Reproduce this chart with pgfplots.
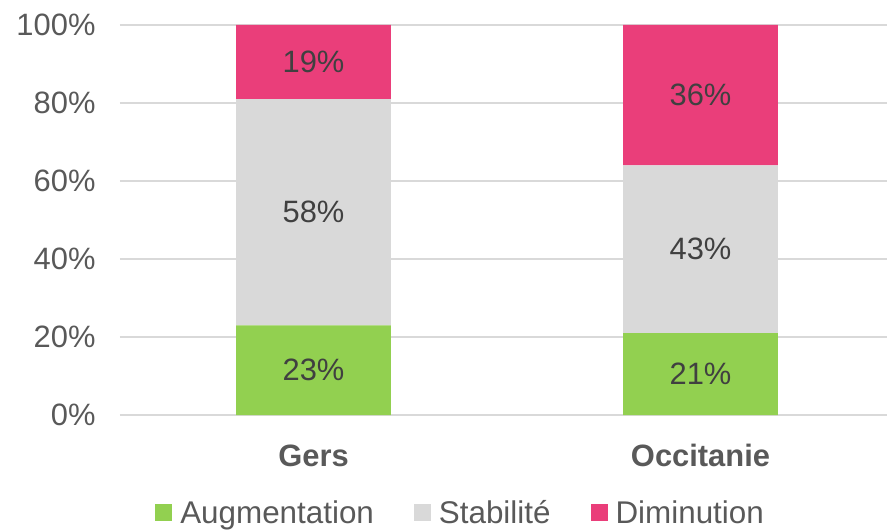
\documentclass[border=0pt]{standalone}
\usepackage{pgfplots}
\pgfplotsset{compat=1.18}
\usetikzlibrary{calc}
\usepackage{fontspec}
\setmainfont{Liberation Sans}
\definecolor{cAug}{HTML}{92D050}
\definecolor{cSta}{HTML}{D9D9D9}
\definecolor{cDim}{HTML}{EA3E7A}
\definecolor{cTick}{HTML}{595959}
\definecolor{cLab}{HTML}{404040}
\definecolor{cGrid}{HTML}{D9D9D9}

\begin{document}
\begin{tikzpicture}
\begin{axis}[
  name=ax,
  scale only axis, width=774bp, height=390bp,
  ybar stacked, bar width=0.4,
  xmin=-0.5, xmax=1.5, ymin=0, ymax=100,
  xtick={0,1}, xticklabels={Gers,Occitanie},
  ytick={0,20,...,100},
  yticklabel={\pgfmathprintnumber{\tick}\%},
  /pgf/number format/assume math mode=true,
  axis x line*=bottom, axis y line*=left,
  x axis line style={draw=cGrid, line width=1.3bp, -},
  y axis line style={draw=none},
  tick style={draw=none},
  ymajorgrids, grid style={draw=cGrid, line width=1.3bp},
  tick label style={font=\fontsize{31}{36}\selectfont, text=cTick},
  yticklabel style={xshift=-21bp},
  xticklabel style={font=\fontsize{31}{36}\selectfont\bfseries, yshift=-26bp},
  nodes near coords={\pgfmathprintnumber{\pgfplotspointmeta}\%},
  point meta=rawy,
  every node near coord/.append style={anchor=center,
    font=\fontsize{31}{36}\selectfont, text=cLab},
  legend style={at={(0.44,-0.251)}, anchor=center, legend columns=3,
    draw=none, fill=none, font=\fontsize{31.5}{36}\selectfont, text=cTick,
    /tikz/every odd column/.append style={column sep=6bp},
    /tikz/every even column/.append style={column sep=38bp},
    legend cell align=left, inner sep=0pt},
  legend image code/.code={\fill[#1,draw=none] (0bp,-8.5bp) rectangle (17bp,8.5bp);},
]
\addplot[fill=cAug, draw=none] coordinates {(0,23) (1,21)};
\addplot[fill=cSta, draw=none] coordinates {(0,58) (1,43)};
\addplot[fill=cDim, draw=none] coordinates {(0,19) (1,36)};
\legend{Augmentation, Stabilité, Diminution}
\end{axis}
\pgfresetboundingbox
\path[use as bounding box] ($(ax.south west)+(-120bp,-115bp)$) rectangle ($(ax.north east)+(-7bp,25bp)$);
\end{tikzpicture}
\end{document}
